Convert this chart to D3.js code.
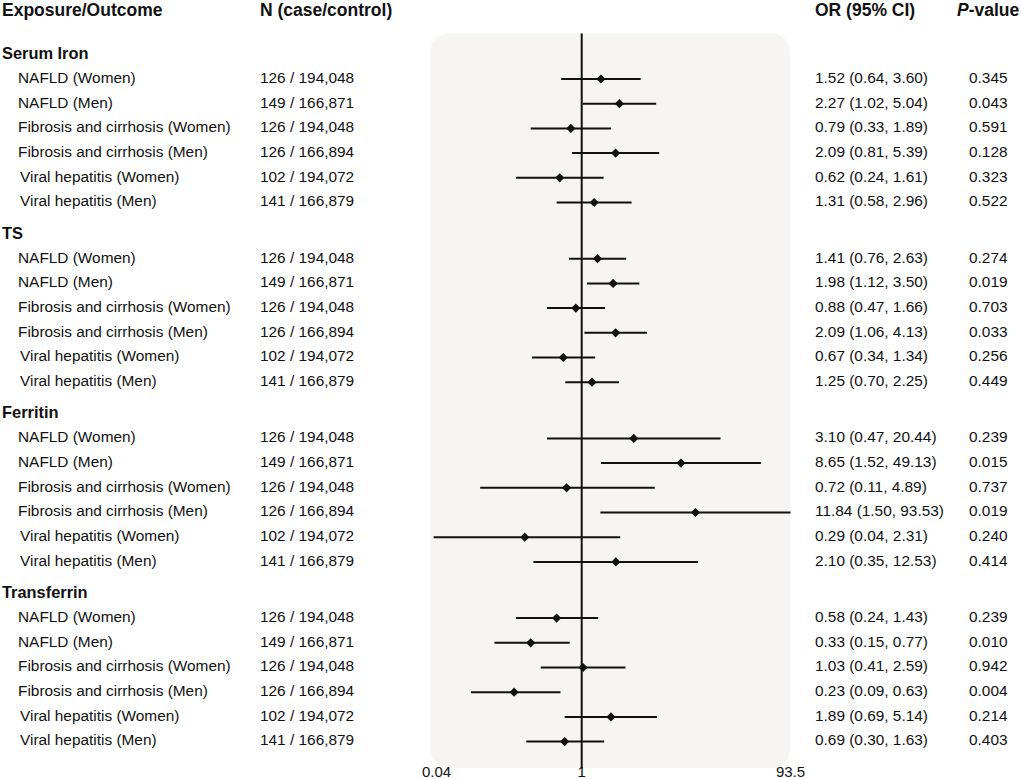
<!DOCTYPE html>
<html><head><meta charset="utf-8">
<script src="https://cdn.jsdelivr.net/npm/d3@7"></script>
<style>body{margin:0;background:#fff}svg{display:block;font-family:"Liberation Sans",Arial,sans-serif}</style>
</head><body>
<svg id="c" width="1021" height="779"></svg>
<script>
const groups = ["Serum Iron", "TS", "Ferritin", "Transferrin"];
const outcomes = ["NAFLD (Women)", "NAFLD (Men)", "Fibrosis and cirrhosis (Women)", "Fibrosis and cirrhosis (Men)", "Viral hepatitis (Women)", "Viral hepatitis (Men)"];
const nLabels = ["126 / 194,048", "149 / 166,871", "126 / 194,048", "126 / 166,894", "102 / 194,072", "141 / 166,879"];
const orValues = [
  [1.52, 2.27, 0.79, 2.09, 0.62, 1.31],
  [1.41, 1.98, 0.88, 2.09, 0.67, 1.25],
  [3.10, 8.65, 0.72, 11.84, 0.29, 2.10],
  [0.58, 0.33, 1.03, 0.23, 1.89, 0.69]
];
const loValues = [
  [0.64, 1.02, 0.33, 0.81, 0.24, 0.58],
  [0.76, 1.12, 0.47, 1.06, 0.34, 0.70],
  [0.47, 1.52, 0.11, 1.50, 0.04, 0.35],
  [0.24, 0.15, 0.41, 0.09, 0.69, 0.30]
];
const hiValues = [
  [3.60, 5.04, 1.89, 5.39, 1.61, 2.96],
  [2.63, 3.50, 1.66, 4.13, 1.34, 2.25],
  [20.44, 49.13, 4.89, 93.53, 2.31, 12.53],
  [1.43, 0.77, 2.59, 0.63, 5.14, 1.63]
];
const pValues = [
  [0.345, 0.043, 0.591, 0.128, 0.323, 0.522],
  [0.274, 0.019, 0.703, 0.033, 0.256, 0.449],
  [0.239, 0.015, 0.737, 0.019, 0.240, 0.414],
  [0.239, 0.010, 0.942, 0.004, 0.214, 0.403]
];
const tickValues = [0.04, 1, 93.5];
const tickLabels = ["0.04", "1", "93.5"];

const svg = d3.select("#c");
const ink = "#111";
const x = d3.scaleLog().domain([0.04, 93.5]).range([433.6, 790.5]);
const yGroup = d3.scaleLinear().domain([0, 3]).range([79, 79 + 3 * 179.7]);
const yRow = d3.scaleLinear().domain([0, 5]).range([0, 123.5]);

const rows = [];
groups.forEach((g, gi) => outcomes.forEach((o, ri) => rows.push({
  g: gi, r: ri, label: o, n: nLabels[ri],
  or: orValues[gi][ri], lo: loValues[gi][ri], hi: hiValues[gi][ri], p: pValues[gi][ri],
  y: yGroup(gi) + yRow(ri)
})));

// panel
const panelTop = 33.5, panelBottom = 768;
svg.append("rect").attr("x", 430.5).attr("y", panelTop)
  .attr("width", 790 - 430.5).attr("height", panelBottom - panelTop)
  .attr("rx", 18).attr("fill", "#f6f5f3");

// reference line
svg.append("line").attr("x1", x(1)).attr("x2", x(1)).attr("y1", panelTop).attr("y2", panelBottom)
  .attr("stroke", ink).attr("stroke-width", 2);

// CI lines
svg.append("g").selectAll("line").data(rows).join("line")
  .attr("x1", d => x(d.lo)).attr("x2", d => x(d.hi))
  .attr("y1", d => d.y).attr("y2", d => d.y)
  .attr("stroke", ink).attr("stroke-width", 2);

// markers
svg.append("g").selectAll("path").data(rows).join("path")
  .attr("d", d3.symbol(d3.symbolSquare, 42))
  .attr("transform", d => `translate(${x(d.or)},${d.y}) rotate(45)`)
  .attr("fill", ink);

// headers
const hdr = svg.append("g").attr("font-weight", "bold").attr("font-size", "17.5px").attr("fill", ink);
hdr.append("text").attr("x", 2).attr("y", 16).text("Exposure/Outcome");
hdr.append("text").attr("x", 260).attr("y", 16).text("N (case/control)");
hdr.append("text").attr("x", 815).attr("y", 16).text("OR (95% CI)");
const ph = hdr.append("text").attr("x", 957).attr("y", 16);
ph.append("tspan").attr("font-style", "italic").text("P");
ph.append("tspan").text("-value");

// group headers
svg.append("g").selectAll("text").data(groups).join("text")
  .attr("x", 2).attr("y", (d, i) => yGroup(i) - 20)
  .attr("font-weight", "bold").attr("font-size", "16.4px").attr("fill", ink)
  .text(d => d);

// row texts
const rt = svg.append("g").attr("font-size", "15.4px").attr("fill", ink);
rt.selectAll(".lab").data(rows).join("text").attr("class", "lab")
  .attr("x", d => d.r >= 4 ? 20 : 18).attr("y", d => d.y + 3.8).text(d => d.label);
rt.selectAll(".n").data(rows).join("text").attr("class", "n")
  .attr("x", 260).attr("y", d => d.y + 3.8).text(d => d.n);
rt.selectAll(".or").data(rows).join("text").attr("class", "or")
  .attr("x", 815).attr("y", d => d.y + 3.8)
  .text(d => `${d.or.toFixed(2)} (${d.lo.toFixed(2)}, ${d.hi.toFixed(2)})`);
rt.selectAll(".p").data(rows).join("text").attr("class", "p")
  .attr("x", 969).attr("y", d => d.y + 3.8).text(d => d.p.toFixed(3));

// axis tick labels
svg.append("g").selectAll("text").data(tickValues).join("text")
  .attr("x", (d, i) => x(d) + (i === 0 ? 3 : 0)).attr("y", 777)
  .attr("text-anchor", "middle").attr("font-size", "15px").attr("fill", ink)
  .text((d, i) => tickLabels[i]);
</script>
</body></html>
